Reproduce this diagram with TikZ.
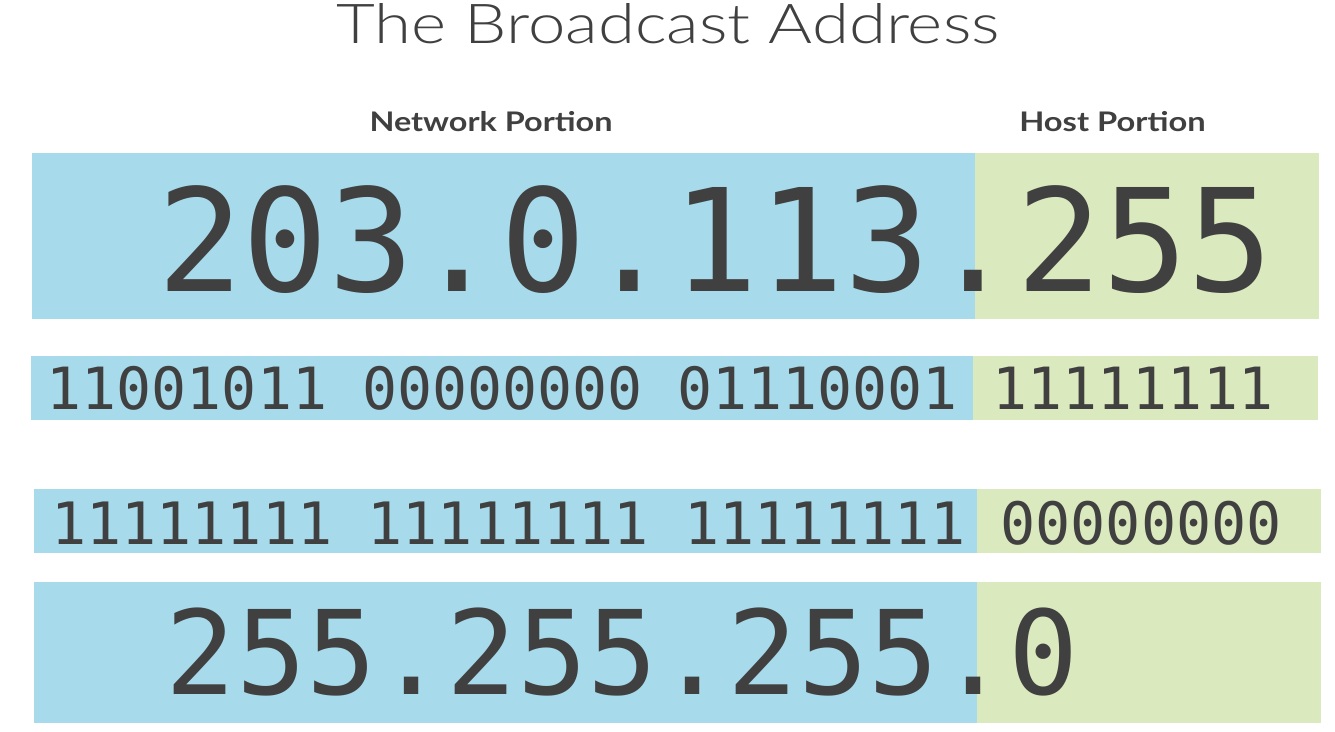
\documentclass[tikz,border=0pt]{standalone}
\usepackage{fontspec}
\setmainfont{Lato}
\newfontfamily\titlefont{Lato Light}
\newfontfamily\monofont{DejaVu Sans Mono}
\definecolor{netblue}{HTML}{A7DBEC}
\definecolor{hostgreen}{HTML}{DBE9BE}
\definecolor{ink}{HTML}{404040}
\begin{document}
\begin{tikzpicture}[x=1pt,y=-1pt,
  every node/.style={inner sep=0pt,outer sep=0pt,text=ink},
  net/.style={fill=netblue},
  host/.style={fill=hostgreen},
  addr/.style={anchor=base,font=\monofont\fontsize{#1}{#1}\selectfont},
  label/.style={anchor=base,font=\bfseries\fontsize{27}{27}\selectfont}]
\useasboundingbox[fill=white] (0,0) rectangle (1335,731);
% title
\node[anchor=base,font=\titlefont\fontsize{55}{55}\selectfont] (title) at (668,43) {\scalebox{1.22}[1]{The Broadcast Address}};
\node[label] (netlabel) at (491,131) {\scalebox{1.2}[1]{Network Portion}};
\node[label] (hostlabel) at (1112.5,131) {\scalebox{1.21}[1]{Host Portion}};
% row 1
\fill[net] (32,153) rectangle (975,319);
\fill[host] (975,153) rectangle (1319,319);
\node[addr=142.7] (ip) at (715.5,291) {203.0.113.255};
% row 2
\fill[net] (31,356) rectangle (973,420);
\fill[host] (973,356) rectangle (1318,420);
\node[addr=58.2] (ipbin) at (660,409) {11001011 00000000 01110001 11111111};
% row 3
\fill[net] (34,489) rectangle (977,553);
\fill[host] (977,489) rectangle (1321,553);
\node[addr=58.4] (maskbin) at (666.5,544) {11111111 11111111 11111111 00000000};
% row 4
\fill[net] (34,582) rectangle (977,723);
\fill[host] (977,582) rectangle (1321,723);
\node[addr=116.7] (mask) at (622.5,694) {255.255.255.0};
\end{tikzpicture}
\end{document}
